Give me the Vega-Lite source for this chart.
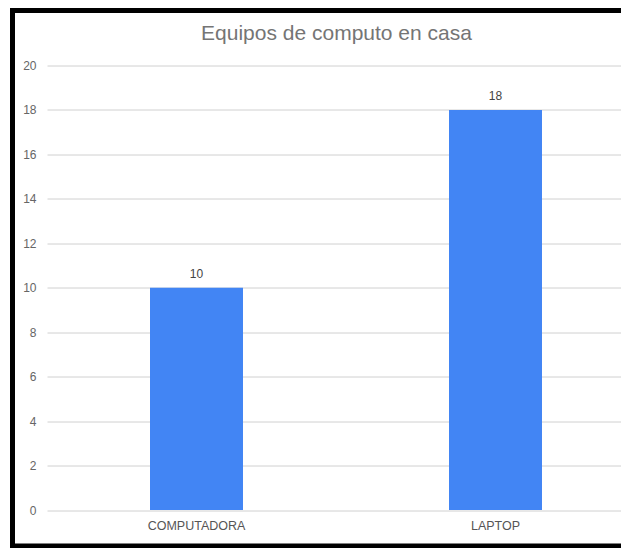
{
  "$schema": "https://vega.github.io/schema/vega-lite/v6.json",
  "width": 612,
  "height": 535.5,
  "autosize": "none",
  "padding": {"left": 12.5, "top": 10.5, "right": 0, "bottom": 2},
  "background": "white",
  "title": {
    "text": "Equipos de computo en casa",
    "font": "Arial",
    "fontSize": 21,
    "fontWeight": "normal",
    "color": "#757575",
    "anchor": "middle",
    "frame": "group",
    "dx": 18,
    "offset": -50,
    "baseline": "alphabetic"
  },
  "data": {
    "values": [
      {"equipo": "COMPUTADORA", "cantidad": 10},
      {"equipo": "LAPTOP", "cantidad": 18}
    ]
  },
  "encoding": {
    "x": {
      "field": "equipo",
      "type": "nominal",
      "sort": null,
      "scale": {"range": [34.5, 632.5], "paddingInner": 0.689, "paddingOuter": 0.3445},
      "axis": {
        "title": null,
        "orient": "bottom",
        "offset": -36,
        "domain": false,
        "ticks": false,
        "grid": false,
        "labelAngle": 0,
        "labelPadding": 9,
        "labelFont": "Arial",
        "labelFontSize": 12.5,
        "labelColor": "#555555"
      }
    },
    "y": {
      "field": "cantidad",
      "type": "quantitative",
      "scale": {"domain": [0, 20], "range": [499.5, 55], "nice": false},
      "axis": {
        "title": null,
        "orient": "left",
        "offset": -34.5,
        "values": [0, 2, 4, 6, 8, 10, 12, 14, 16, 18, 20],
        "domain": false,
        "ticks": false,
        "grid": true,
        "gridColor": "#d0d0d0",
        "gridWidth": 1,
        "labelPadding": 11,
        "labelFont": "Arial",
        "labelFontSize": 12,
        "labelColor": "#666666"
      }
    }
  },
  "layer": [
    {"mark": {"type": "bar", "color": "#4285F4"}},
    {
      "mark": {"type": "text", "dy": -14, "font": "Arial", "fontSize": 12, "color": "#444444"},
      "encoding": {"text": {"field": "cantidad", "type": "quantitative"}}
    }
  ],
  "config": {"view": {"stroke": "black", "strokeWidth": 5}}
}
